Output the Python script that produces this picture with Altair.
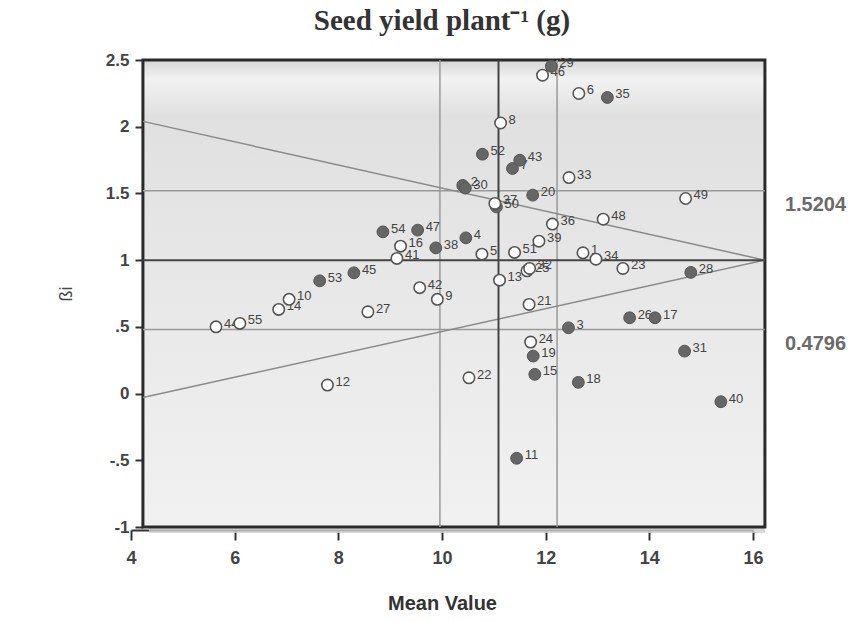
import altair as alt
import pandas as pd

# ---- data ----
ids = [1, 2, 3, 4, 5, 6, 7, 8, 9, 10, 11, 12, 13, 14, 15, 16, 17, 18, 19, 20,
       21, 22, 23, 24, 25, 26, 27, 28, 29, 30, 31, 32, 33, 34, 35, 36, 37, 38, 39, 40,
       41, 42, 43, 44, 45, 46, 47, 48, 49, 50, 51, 52, 53, 54, 55]
mean_value = [12.72, 10.40, 12.44, 10.46, 10.77, 12.64, 11.36, 11.13, 9.91, 7.05,
              11.44, 7.79, 11.11, 6.85, 11.79, 9.20, 14.11, 12.63, 11.76, 11.75,
              11.68, 10.52, 13.49, 11.71, 11.64, 13.62, 8.57, 14.80, 12.11, 10.45,
              14.68, 11.69, 12.45, 12.97, 13.19, 12.13, 11.02, 9.88, 11.87, 15.38,
              9.13, 9.57, 11.50, 5.64, 8.30, 11.94, 9.53, 13.11, 14.70, 11.05,
              11.40, 10.78, 7.64, 8.86, 6.10]
beta_i = [1.055, 1.56, 0.493, 1.167, 1.045, 2.249, 1.687, 2.028, 0.706, 0.706,
          -0.485, 0.064, 0.850, 0.631, 0.144, 1.105, 0.568, 0.084, 0.281, 1.487,
          0.668, 0.118, 0.938, 0.386, 0.920, 0.568, 0.613, 0.908, 2.453, 1.54,
          0.318, 0.938, 1.619, 1.007, 2.219, 1.270, 1.425, 1.092, 1.142, -0.061,
          1.013, 0.794, 1.749, 0.500, 0.905, 2.386, 1.225, 1.307, 1.462, 1.399,
          1.058, 1.794, 0.845, 1.212, 0.526]
filled = [0, 1, 1, 1, 0, 0, 1, 0, 0, 0,
          1, 0, 0, 0, 1, 0, 1, 1, 1, 1,
          0, 0, 0, 0, 0, 1, 0, 1, 1, 1,
          1, 0, 0, 0, 1, 0, 0, 1, 0, 1,
          0, 0, 1, 0, 1, 0, 1, 0, 0, 1,
          0, 1, 1, 1, 0]

x_ticks = [4, 6, 8, 10, 12, 14, 16]
y_ticks = [-1, -0.5, 0, 0.5, 1, 1.5, 2, 2.5]

frame_x = [4.23, 16.23]
frame_y = [-1, 2.5]
grand_mean = 11.09
mean_band = [9.96, 12.22]
beta_band = [0.4796, 1.5204]
upper_line_y = [2.04, 1.0]
lower_line_y = [-0.03, 1.0]
band_labels = ["1.5204", "0.4796"]

# ---- tables ----
pts = pd.DataFrame({"id": ids, "mean": mean_value, "beta": beta_i, "filled": filled})
pts["label"] = pts["id"].astype(str)
frame = pd.DataFrame({"x": [frame_x[0]], "x2": [frame_x[1]], "y": [frame_y[0]], "y2": [frame_y[1]]})
hl = pd.DataFrame({"x": frame_x[0], "x2": frame_x[1], "y": beta_band})
hd = pd.DataFrame({"x": [frame_x[0]], "x2": [frame_x[1]], "y": [1.0]})
vl = pd.DataFrame({"x": mean_band, "y": frame_y[0], "y2": frame_y[1]})
vd = pd.DataFrame({"x": [grand_mean], "y": [frame_y[0]], "y2": [frame_y[1]]})
tri = pd.DataFrame({
    "x": [frame_x[0], frame_x[1], frame_x[0], frame_x[1]],
    "y": upper_line_y + lower_line_y,
    "g": ["u", "u", "l", "l"],
})
ann = pd.DataFrame({"x": [frame_x[1], frame_x[1]], "y": [beta_band[1], beta_band[0]], "t": band_labels})

NARROW = "Liberation Sans Narrow, Arial Narrow, Liberation Sans, Arial"
xs = alt.Scale(domain=[4, 16], nice=False, zero=False)
ys = alt.Scale(domain=[-1, 2.5], nice=False, zero=False)
xaxis = alt.Axis(values=x_ticks, title="Mean Value", grid=False, offset=3,
                 domainColor="#333", domainWidth=2, tickColor="#333", tickWidth=2, tickSize=10,
                 labelFont=NARROW, labelFontSize=18, labelFontWeight="bold", labelColor="#444",
                 labelPadding=9, titleFont=NARROW, titleFontSize=20, titleFontWeight="bold",
                 titleColor="#333", titlePadding=26, labelFlush=False)
yaxis = alt.Axis(values=y_ticks, title="ßi", grid=False, offset=-12,
                 domainColor="#333", domainWidth=3, tickColor="#333", tickWidth=2, tickSize=8,
                 labelFont=NARROW, labelFontSize=17, labelFontWeight="bold", labelColor="#444",
                 labelPadding=6, labelFlush=False,
                 labelExpr="datum.value == 0 ? '0' : replace(toString(datum.value), '0.', '.')",
                 titleFont="Liberation Sans", titleFontSize=18, titleFontWeight="normal",
                 titleColor="#444", titlePadding=30)

def X(f):
    return alt.X(f, type="quantitative", scale=xs, axis=xaxis)

def Y(f):
    return alt.Y(f, type="quantitative", scale=ys, axis=yaxis)

shadow = alt.Chart(frame).mark_rect(xOffset=6, yOffset=6, color="#cfcfcf", opacity=0.8).encode(
    x=X("x"), x2="x2", y=Y("y"), y2="y2")

grad = alt.Gradient(gradient="linear", x1=0, x2=0, y1=0, y2=1, stops=[
    alt.GradientStop(color="#d6d6d6", offset=0),
    alt.GradientStop(color="#f2f2f2", offset=0.04),
    alt.GradientStop(color="#e0e0e0", offset=0.12),
    alt.GradientStop(color="#e8e8e8", offset=0.5),
    alt.GradientStop(color="#f1f1f1", offset=1),
])
box = alt.Chart(frame).mark_rect(fill=grad, stroke="#2a2a2a", strokeWidth=3).encode(
    x=X("x"), x2="x2", y=Y("y"), y2="y2")

hlight = alt.Chart(hl).mark_rule(color="#9a9a9a", strokeWidth=1.5).encode(x=X("x"), x2="x2", y=Y("y"))
vlight = alt.Chart(vl).mark_rule(color="#9a9a9a", strokeWidth=1.5).encode(x=X("x"), y=Y("y"), y2="y2")
lines = alt.Chart(tri).mark_line(color="#8a8a8a", strokeWidth=1.5).encode(x=X("x"), y=Y("y"), detail="g")
hdark = alt.Chart(hd).mark_rule(color="#444", strokeWidth=2).encode(x=X("x"), x2="x2", y=Y("y"))
vdark = alt.Chart(vd).mark_rule(color="#444", strokeWidth=2).encode(x=X("x"), y=Y("y"), y2="y2")

labels = alt.Chart(pts).mark_text(align="left", baseline="middle", dx=8, dy=-3,
                                  font=NARROW, fontSize=13, color="#444").encode(
    x=X("mean"), y=Y("beta"), text="label")

solid = alt.Chart(pts[pts["filled"] == 1]).mark_point(
    shape="circle", filled=True, size=140, fill="#666", stroke="#555", strokeWidth=1, opacity=1).encode(
    x=X("mean"), y=Y("beta"))
hollow = alt.Chart(pts[pts["filled"] == 0]).mark_point(
    shape="circle", filled=True, size=130, fill="white", stroke="#555", strokeWidth=1.6, opacity=1).encode(
    x=X("mean"), y=Y("beta"))

annot = alt.Chart(ann).mark_text(align="left", baseline="middle", dx=20, dy=14,
                                 font="Liberation Sans, Arial", fontSize=20, fontWeight="bold",
                                 color="#6a6a6a").encode(x=X("x"), y=Y("y"), text="t")

chart = alt.layer(shadow, box, hlight, vlight, lines, hdark, vdark, labels, solid, hollow, annot).properties(
    width=622, height=467,
    autosize=alt.AutoSizeParams(type="none"),
    padding={"left": 131, "top": 60, "right": 100, "bottom": 95},
    background="white",
    title=alt.TitleParams(text="Seed yield plant⁻¹ (g)", font="Liberation Serif", fontSize=29,
                          fontWeight="bold", color="#333", anchor="middle", offset=15),
).configure_view(stroke=None)

chart.save("out.html", embed_options={"renderer": "svg", "actions": False})
